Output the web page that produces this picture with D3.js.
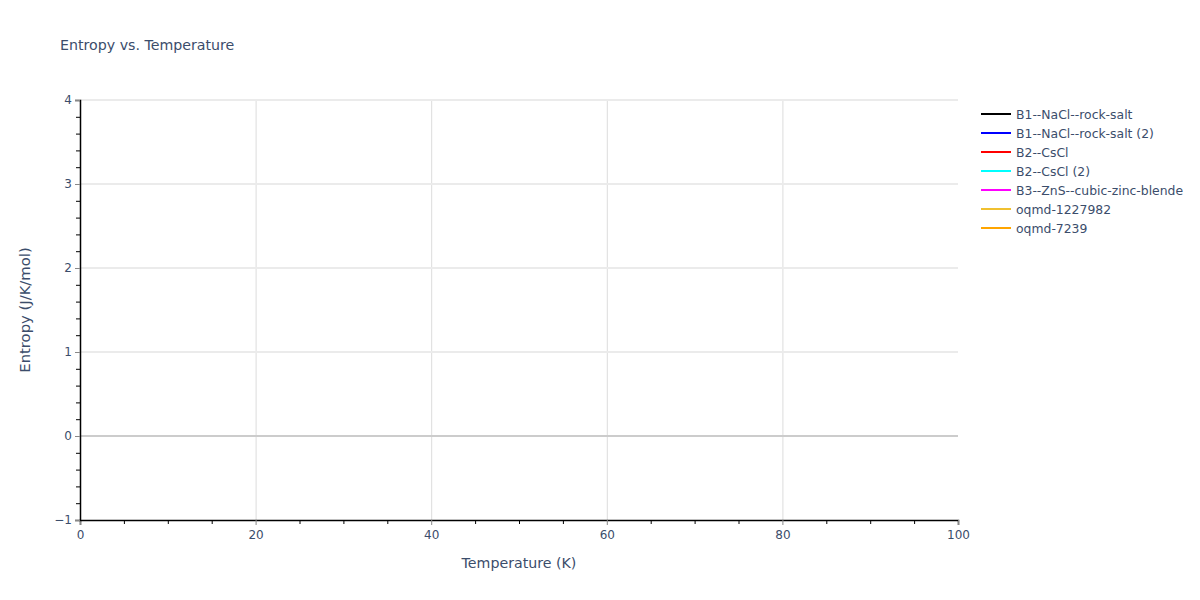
<!DOCTYPE html>
<html>
<head>
<meta charset="utf-8">
<script src="https://cdn.jsdelivr.net/npm/d3@7"></script>
<style>
  body { margin: 0; background: #fff; }
  svg text { font-family: "DejaVu Sans", verdana, arial, sans-serif; fill: #3b4d6b; }
</style>
</head>
<body>
<svg id="chart" width="1200" height="600"></svg>
<script>
// series shown in the legend; none of them carries any points in the picture
var seriesNames = [
  'B1--NaCl--rock-salt',
  'B1--NaCl--rock-salt (2)',
  'B2--CsCl',
  'B2--CsCl (2)',
  'B3--ZnS--cubic-zinc-blende',
  'oqmd-1227982',
  'oqmd-7239'
]
var temperatures = []
var entropyValues = [[], [], [], [], [], [], []]
var xTickValues = [0, 20, 40, 60, 80, 100]
var yTickValues = [-1, 0, 1, 2, 3, 4]
var xDomain = [0, 100]
var yDomain = [-1, 4]

var palette = ['#000000', '#0000ff', '#ff0000', '#00ffff', '#ff00ff', '#f0c030', '#ffa500']

var svg = d3.select('#chart')
var margin = {left: 80, right: 242, top: 100, bottom: 80}
var W = 1200, H = 600

var x = d3.scaleLinear().domain(xDomain).range([margin.left, W - margin.right])
var y = d3.scaleLinear().domain(yDomain).range([H - margin.bottom, margin.top])

// grid
var grid = svg.append('g')
grid.selectAll('.vgrid')
    .data(xTickValues.filter(d => d !== xDomain[0] && d !== xDomain[1]))
    .enter().append('line')
    .attr('x1', d => x(d) + 0.5).attr('x2', d => x(d) + 0.5)
    .attr('y1', y(yDomain[1])).attr('y2', y(yDomain[0]))
    .style('stroke', '#dcdcdc').style('stroke-width', 1)
grid.selectAll('.hgrid')
    .data(yTickValues.filter(d => d !== 0 && d !== yDomain[0]))
    .enter().append('line')
    .attr('x1', x(xDomain[0])).attr('x2', x(xDomain[1]))
    .attr('y1', d => y(d)).attr('y2', d => y(d))
    .style('stroke', '#ebebeb').style('stroke-width', 2)
grid.append('line')
    .attr('x1', x(xDomain[0])).attr('x2', x(xDomain[1]))
    .attr('y1', y(0)).attr('y2', y(0))
    .style('stroke', '#cccccc').style('stroke-width', 2)

// lines (empty data)
var line = d3.line()
    .x((d, i) => x(temperatures[i]))
    .y(d => y(d))
svg.append('g').selectAll('path')
    .data(entropyValues)
    .enter().append('path')
    .attr('d', d => d.length ? line(d) : null)
    .style('fill', 'none')
    .style('stroke', (d, i) => palette[i])
    .style('stroke-width', 2)

// axes
function styleAxis (g) {
  g.select('.domain').style('stroke', '#000').style('stroke-width', 1.5)
  g.selectAll('.tick line').style('stroke', '#888')
  g.selectAll('.tick text').style('font-size', '12px').style('fill', '#3b4d6b')
}

var xMinor = d3.range(xDomain[0], xDomain[1] + 0.001, 5).filter(d => d % 20 !== 0)
var yMinor = d3.range(yDomain[0], yDomain[1] + 0.001, 0.2).map(d => Math.round(d * 10) / 10)
    .filter(d => Math.abs(d - Math.round(d)) > 0.01)

var xAxis = svg.append('g')
    .attr('transform', `translate(0,${y(yDomain[0])})`)
    .call(d3.axisBottom(x).tickValues(xTickValues).tickSize(5).tickPadding(5).tickFormat(d3.format('d')))
styleAxis(xAxis)
xAxis.selectAll('.minor')
    .data(xMinor).enter().append('line')
    .attr('x1', d => x(d) + 0.5).attr('x2', d => x(d) + 0.5)
    .attr('y1', 0).attr('y2', 4)
    .style('stroke', '#000')

var yAxis = svg.append('g')
    .attr('transform', `translate(${x(xDomain[0])},0)`)
    .call(d3.axisLeft(y).tickValues(yTickValues).tickSize(5).tickPadding(3)
      .tickFormat(d => d < 0 ? '\u2212' + Math.abs(d) : d))
styleAxis(yAxis)
yAxis.selectAll('.minor')
    .data(yMinor).enter().append('line')
    .attr('y1', d => y(d) + 0.5).attr('y2', d => y(d) + 0.5)
    .attr('x1', 0).attr('x2', -4)
    .style('stroke', '#000')

// titles
svg.append('text')
    .attr('x', 60).attr('y', 50)
    .style('font-size', '14.2px')
    .text('Entropy vs. Temperature')
svg.append('text')
    .attr('x', (x.range()[0] + x.range()[1]) / 2).attr('y', 568)
    .attr('text-anchor', 'middle')
    .style('font-size', '14.2px')
    .text('Temperature (K)')
svg.append('text')
    .attr('transform', `translate(30,${(y.range()[0] + y.range()[1]) / 2}) rotate(-90)`)
    .attr('text-anchor', 'middle')
    .style('font-size', '14.8px')
    .text('Entropy (J/K/mol)')

// legend
var legend = svg.append('g').attr('transform', 'translate(981,114)')
var items = legend.selectAll('.item')
    .data(seriesNames).enter().append('g')
    .attr('transform', (d, i) => `translate(0,${i * 19})`)
items.append('line')
    .attr('x1', 0).attr('x2', 30).attr('y1', 0).attr('y2', 0)
    .style('stroke', (d, i) => palette[i]).style('stroke-width', 2)
items.append('text')
    .attr('x', 35).attr('y', 4.5)
    .style('font-size', '12.4px')
    .text(d => d)
</script>
</body>
</html>
